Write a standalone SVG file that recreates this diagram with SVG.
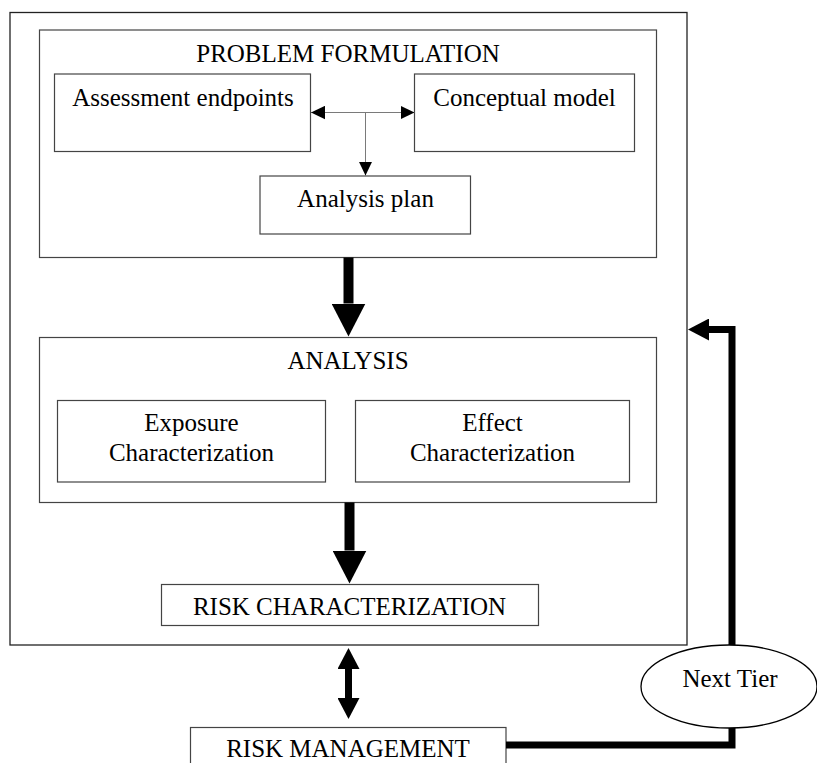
<svg xmlns="http://www.w3.org/2000/svg" width="817" height="763" viewBox="0 0 817 763">
<style>
  .box { fill: #ffffff; stroke: #444444; stroke-width: 1.2; }
  .outer { fill: #ffffff; stroke: #222222; stroke-width: 1.3; }
  .lbl { font-family: "Liberation Serif", "Times New Roman", serif; font-size: 25px; fill: #000000; text-anchor: middle; }
  .thin { stroke: #7a7a7a; stroke-width: 1; fill: none; }
  .thick { stroke: #000000; stroke-width: 10; fill: none; }
  .mid { stroke: #000000; stroke-width: 7; fill: none; }
</style>
<defs>
  <marker id="bigHead" viewBox="0 -17 33 34" refX="0" refY="0" markerWidth="33" markerHeight="34" markerUnits="userSpaceOnUse" orient="auto">
    <path d="M0,-17 L33,0 L0,17 z" fill="#000000"/>
  </marker>
  <marker id="midHead" viewBox="0 -11 21 22" refX="0" refY="0" markerWidth="21" markerHeight="22" markerUnits="userSpaceOnUse" orient="auto-start-reverse">
    <path d="M0,-11 L21,0 L0,11 z" fill="#000000"/>
  </marker>
  <marker id="smallHead" viewBox="0 -7 14 14" refX="14" refY="0" markerWidth="14" markerHeight="14" markerUnits="userSpaceOnUse" orient="auto-start-reverse">
    <path d="M0,-6.7 L14,0 L0,6.7 z" fill="#000000"/>
  </marker>
</defs>

<g id="outer-frame">
  <rect class="outer" x="10" y="12.5" width="677" height="632.5"/>
</g>

<g id="problem-formulation">
  <rect class="box" x="39.5" y="30" width="617" height="227.5"/>
  <text class="lbl" x="348" y="62">PROBLEM FORMULATION</text>
</g>

<g id="assessment-endpoints">
  <rect class="box" x="54.5" y="74" width="256" height="77.5"/>
  <text class="lbl" x="183" y="106">Assessment endpoints</text>
</g>

<g id="conceptual-model">
  <rect class="box" x="414.5" y="74" width="220" height="77.5"/>
  <text class="lbl" x="524.5" y="106">Conceptual model</text>
</g>

<g id="analysis-plan">
  <rect class="box" x="260" y="176" width="210.5" height="58"/>
  <text class="lbl" x="365.5" y="207">Analysis plan</text>
</g>

<g id="analysis">
  <rect class="box" x="39.5" y="337.5" width="617" height="165"/>
  <text class="lbl" x="348" y="368.5">ANALYSIS</text>
</g>

<g id="exposure-characterization">
  <rect class="box" x="57.5" y="400.5" width="268" height="81.5"/>
  <text class="lbl" x="191.5" y="431">Exposure</text>
  <text class="lbl" x="191.5" y="461">Characterization</text>
</g>

<g id="effect-characterization">
  <rect class="box" x="355.5" y="400.5" width="274" height="81.5"/>
  <text class="lbl" x="492.5" y="431">Effect</text>
  <text class="lbl" x="492.5" y="461">Characterization</text>
</g>

<g id="risk-characterization">
  <rect class="box" x="161.5" y="584.5" width="377" height="41"/>
  <text class="lbl" x="349.5" y="614.5">RISK CHARACTERIZATION</text>
</g>

<g id="risk-management">
  <rect class="box" x="190.5" y="727.5" width="315.5" height="45"/>
  <text class="lbl" x="348" y="757">RISK MANAGEMENT</text>
</g>

<g id="connectors">
  <line class="thin" x1="311" y1="112.5" x2="414.5" y2="112.5" marker-start="url(#smallHead)" marker-end="url(#smallHead)"/>
  <line class="thin" x1="365.5" y1="112.5" x2="365.5" y2="175.5" marker-end="url(#smallHead)"/>
  <line class="thick" x1="348.5" y1="257.5" x2="348.5" y2="303.5" marker-end="url(#bigHead)"/>
  <line class="thick" x1="349.5" y1="502.5" x2="349.5" y2="550.5" marker-end="url(#bigHead)"/>
  <line class="mid" x1="348.5" y1="669" x2="348.5" y2="698" marker-start="url(#midHead)" marker-end="url(#midHead)"/>
  <polyline class="mid" points="506,745 732,745 732,329.5 709,329.5" marker-end="url(#midHead)"/>
</g>

<g id="next-tier">
  <ellipse cx="729" cy="686.5" rx="88" ry="41.5" fill="#ffffff" stroke="#000000" stroke-width="1.3"/>
  <text class="lbl" x="730" y="687">Next Tier</text>
</g>
</svg>
